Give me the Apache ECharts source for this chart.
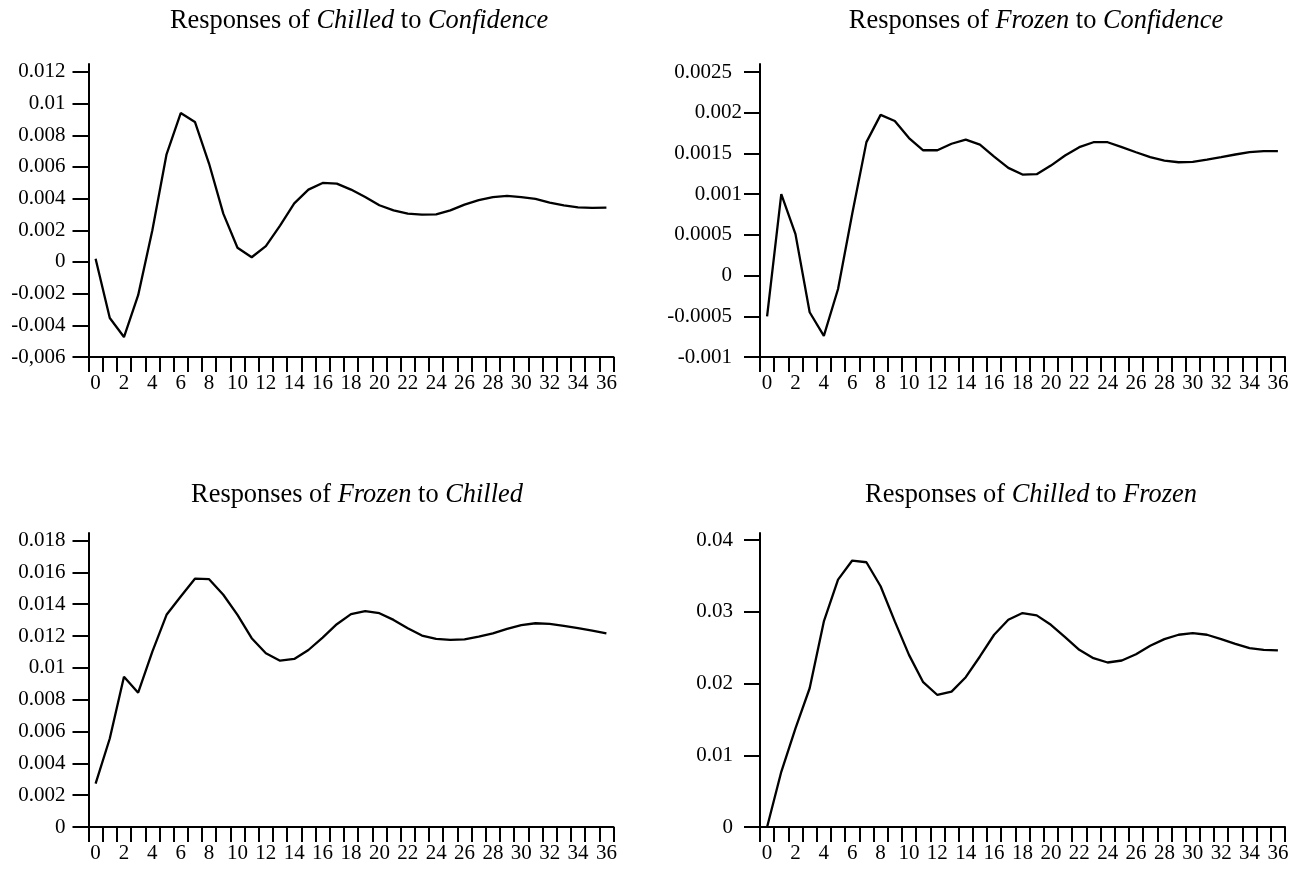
<!DOCTYPE html>
<html>
<head>
<meta charset="utf-8">
<script src="https://cdn.jsdelivr.net/npm/echarts@6/dist/echarts.min.js"></script>
<style>
  html, body { margin: 0; padding: 0; background: #fff; }
  #irfChart { width: 1297px; height: 870px; }
</style>
</head>
<body>
<div id="irfChart"></div>
<script>
// horizon 0..36
var periods = [];
for (var p = 0; p <= 36; p++) periods.push(String(p));

// responses
var chilledToConfidence = [0.0002, -0.00354, -0.00474, -0.0021, 0.0020, 0.0068, 0.0094, 0.00884, 0.0062, 0.00305,
  0.0009, 0.0003, 0.001, 0.0023, 0.0037, 0.00457, 0.00499, 0.00495, 0.00457, 0.0041,
  0.00358, 0.00326, 0.00305, 0.00299, 0.00301, 0.00326, 0.00362, 0.0039, 0.0041, 0.00417,
  0.0041, 0.00398, 0.00375, 0.00358, 0.00345, 0.00341, 0.00343];
var frozenToConfidence = [-0.0005, 0.001, 0.00051, -0.00045, -0.00074, -0.000164, 0.00076, 0.00164, 0.001975, 0.0019,
  0.00169, 0.00154, 0.00154, 0.00162, 0.00167, 0.00161, 0.001463, 0.001324, 0.001242, 0.001246,
  0.001352, 0.001475, 0.001578, 0.001639, 0.001639, 0.001578, 0.001516, 0.001455, 0.001414, 0.001393,
  0.001398, 0.001426, 0.001455, 0.001488, 0.001516, 0.001529, 0.001529];
var frozenToChilled = [0.00273, 0.00556, 0.00944, 0.00844, 0.01102, 0.01333, 0.01448, 0.0156, 0.01557, 0.01459,
  0.01333, 0.01186, 0.01091, 0.01045, 0.01056, 0.01112, 0.0119, 0.01274, 0.01337, 0.01356,
  0.01343, 0.01301, 0.01249, 0.01203, 0.01182, 0.01175, 0.01179, 0.01196, 0.01217, 0.01245,
  0.01268, 0.0128, 0.01276, 0.01263, 0.01249, 0.01234, 0.01217];
var chilledToFrozen = [0.0, 0.0077, 0.01375, 0.01935, 0.02867, 0.0345, 0.03716, 0.03692, 0.03357, 0.02867,
  0.024, 0.02019, 0.01841, 0.01888, 0.02089, 0.02378, 0.02681, 0.0289, 0.02984, 0.02951,
  0.0282, 0.02648, 0.02471, 0.02354, 0.02294, 0.02322, 0.0241, 0.02527, 0.0262, 0.02681,
  0.02704, 0.02681, 0.0262, 0.02555, 0.02494, 0.02471, 0.02462];

// y tick values and their printed labels
var ticksA = [-0.006, -0.004, -0.002, 0, 0.002, 0.004, 0.006, 0.008, 0.01, 0.012];
var labelsA = ['-0,006', '-0.004', '-0.002', '0', '0.002', '0.004', '0.006', '0.008', '0.01', '0.012'];
var ticksB = [-0.001, -0.0005, 0, 0.0005, 0.001, 0.0015, 0.002, 0.0025];
var labelsB = ['-0.001', '-0.0005', '0', '0.0005', '0.001', '0.0015', '0.002', '0.0025'];
var ticksC = [0, 0.002, 0.004, 0.006, 0.008, 0.01, 0.012, 0.014, 0.016, 0.018];
var labelsC = ['0', '0.002', '0.004', '0.006', '0.008', '0.01', '0.012', '0.014', '0.016', '0.018'];
var ticksD = [0, 0.01, 0.02, 0.03, 0.04];
var labelsD = ['0', '0.01', '0.02', '0.03', '0.04'];

var serif = 'Liberation Serif';
var ink = '#000';

function makeTitle(text, x, y) {
  return {
    text: text,
    left: x,
    top: y,
    textAlign: 'center',
    padding: 0,
    textStyle: {
      fontFamily: serif, fontSize: 26.4, fontWeight: 'normal', color: ink,
      rich: {
        i: { fontFamily: serif, fontSize: 26.4, fontStyle: 'italic', color: ink }
      }
    }
  };
}

function makeX(idx) {
  return {
    type: 'category',
    gridIndex: idx,
    data: periods,
    boundaryGap: true,
    axisLine: { show: true, onZero: false, lineStyle: { color: ink, width: 2 } },
    axisTick: { show: true, interval: 0, length: 15, lineStyle: { color: ink, width: 2 } },
    axisLabel: { interval: 1, margin: 16, fontFamily: serif, fontSize: 21, color: ink },
    splitLine: { show: false }
  };
}

// gap: label distance from the axis; pushOut: labels that sit further left (panel B quirk)
function makeY(idx, lo, hi, ticks, labels, gap, pushOut) {
  return {
    type: 'value',
    gridIndex: idx,
    min: lo,
    max: hi,
    axisLine: { show: true, lineStyle: { color: ink, width: 2 } },
    axisTick: { show: true, length: 16, customValues: ticks, lineStyle: { color: ink, width: 2 } },
    axisLabel: {
      customValues: ticks,
      margin: gap,
      fontFamily: serif, fontSize: 21, color: ink,
      rich: {
        p: { fontFamily: serif, fontSize: 21, color: ink, padding: [0, pushOut || 0, 0, 0] }
      },
      formatter: function (v) {
        for (var k = 0; k < ticks.length; k++) {
          if (Math.abs(ticks[k] - v) < 1e-9) {
            var s = labels[k];
            if (pushOut && s !== '0.002' && s !== '0.001') return '{p|' + s + '}';
            return s;
          }
        }
        return '';
      }
    },
    splitLine: { show: false }
  };
}

function makeLine(idx, values) {
  return {
    type: 'line',
    xAxisIndex: idx,
    yAxisIndex: idx,
    data: values,
    symbol: 'none',
    smooth: false,
    lineStyle: { color: ink, width: 2.3 }
  };
}

var options = {
  animation: false,
  backgroundColor: '#fff',
  title: [
    makeTitle('Responses of {i|Chilled} to {i|Confidence}', 359, 8),
    makeTitle('Responses of {i|Frozen} to {i|Confidence}', 1036, 8),
    makeTitle('Responses of {i|Frozen} to {i|Chilled}', 357, 482),
    makeTitle('Responses of {i|Chilled} to {i|Frozen}', 1031, 482)
  ],
  grid: [
    { left: 88.5, top: 64, width: 525, height: 293 },
    { left: 760, top: 64, width: 525, height: 293 },
    { left: 88.5, top: 533, width: 525, height: 294 },
    { left: 760, top: 533, width: 525, height: 294 }
  ],
  xAxis: [makeX(0), makeX(1), makeX(2), makeX(3)],
  yAxis: [
    makeY(0, -0.006, 0.0125, ticksA, labelsA, 23),
    makeY(1, -0.001, 0.0026, ticksB, labelsB, 18, 10),
    makeY(2, 0, 0.01847, ticksC, labelsC, 23),
    makeY(3, 0, 0.041, ticksD, labelsD, 27)
  ],
  series: [
    makeLine(0, chilledToConfidence),
    makeLine(1, frozenToConfidence),
    makeLine(2, frozenToChilled),
    makeLine(3, chilledToFrozen)
  ]
};

var irfChart = echarts.init(document.getElementById('irfChart'));
irfChart.setOption(options);
</script>
</body>
</html>
